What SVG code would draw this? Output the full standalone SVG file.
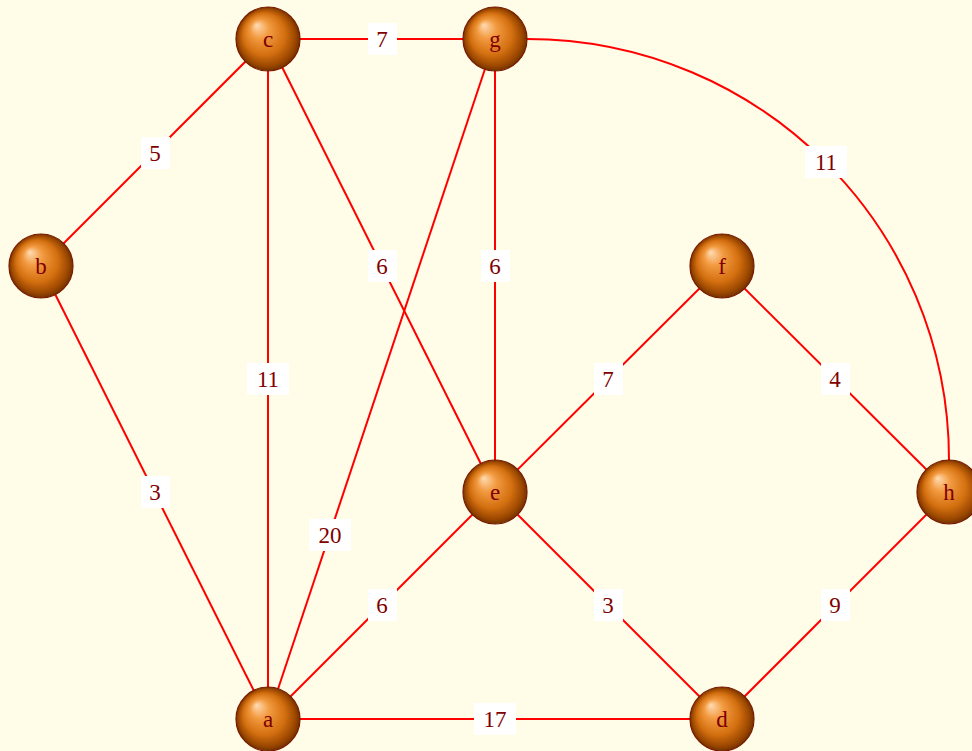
<svg xmlns="http://www.w3.org/2000/svg" width="972" height="751" viewBox="0 0 972 751">
<defs>
<radialGradient id="ball" cx="50%" cy="50%" r="50%" fx="32%" fy="28%">
<stop offset="0" stop-color="#ffdcb4"/>
<stop offset="0.3" stop-color="#f29a40"/>
<stop offset="0.65" stop-color="#d47010"/>
<stop offset="0.9" stop-color="#9a4600"/>
<stop offset="1" stop-color="#703200"/>
</radialGradient>
<style>
.edge{stroke:#ff0000;stroke-width:2;fill:none}
.ball{fill:url(#ball);stroke:#7a1a00;stroke-width:1.2}
.lbl{fill:#ffffff}
text{font-family:"Liberation Serif","DejaVu Serif",serif;font-size:23px;fill:#800000;text-anchor:middle;dominant-baseline:central}
</style>
</defs>
<rect width="972" height="751" fill="#fffce8"/>
<g id="connectors">
<line class="edge" x1="268" y1="39" x2="495" y2="39"/>
<line class="edge" x1="268" y1="39" x2="41" y2="266"/>
<line class="edge" x1="41" y1="266" x2="268" y2="719"/>
<line class="edge" x1="268" y1="39" x2="268" y2="719"/>
<line class="edge" x1="268" y1="39" x2="495" y2="492"/>
<line class="edge" x1="495" y1="39" x2="268" y2="719"/>
<line class="edge" x1="495" y1="39" x2="495" y2="492"/>
<path class="edge" d="M527,39 C760,39 949,227 949,460"/>
<line class="edge" x1="722" y1="266" x2="495" y2="492"/>
<line class="edge" x1="722" y1="266" x2="949" y2="492"/>
<line class="edge" x1="495" y1="492" x2="268" y2="719"/>
<line class="edge" x1="495" y1="492" x2="722" y2="719"/>
<line class="edge" x1="949" y1="492" x2="722" y2="719"/>
<line class="edge" x1="268" y1="719" x2="722" y2="719"/>
<g id="labels">
<rect class="lbl" x="368" y="23" width="29" height="32"/><text x="382" y="39">7</text>
<rect class="lbl" x="141" y="137" width="29" height="32"/><text x="155" y="153">5</text>
<rect class="lbl" x="141" y="476" width="29" height="32"/><text x="155" y="492">3</text>
<rect class="lbl" x="247" y="363" width="42" height="32"/><text x="268" y="379">11</text>
<rect class="lbl" x="368" y="250" width="29" height="32"/><text x="382" y="266">6</text>
<rect class="lbl" x="309" y="519" width="42" height="32"/><text x="330" y="535">20</text>
<rect class="lbl" x="481" y="250" width="29" height="32"/><text x="495" y="266">6</text>
<rect class="lbl" x="805" y="146" width="42" height="32"/><text x="826" y="162">11</text>
<rect class="lbl" x="594" y="363" width="29" height="32"/><text x="608" y="379">7</text>
<rect class="lbl" x="821" y="363" width="29" height="32"/><text x="835" y="379">4</text>
<rect class="lbl" x="368" y="589" width="29" height="32"/><text x="382" y="605">6</text>
<rect class="lbl" x="594" y="589" width="29" height="32"/><text x="608" y="605">3</text>
<rect class="lbl" x="821" y="589" width="29" height="32"/><text x="835" y="605">9</text>
<rect class="lbl" x="474" y="703" width="42" height="32"/><text x="495" y="719">17</text>
</g>
</g>
<g id="node-c"><circle class="ball" cx="268" cy="39" r="32"/><text x="268" y="39">c</text></g>
<g id="node-g"><circle class="ball" cx="495" cy="39" r="32"/><text x="495" y="39">g</text></g>
<g id="node-b"><circle class="ball" cx="41" cy="266" r="32"/><text x="41" y="266">b</text></g>
<g id="node-f"><circle class="ball" cx="722" cy="266" r="32"/><text x="722" y="266">f</text></g>
<g id="node-e"><circle class="ball" cx="495" cy="492" r="32"/><text x="495" y="492">e</text></g>
<g id="node-h"><circle class="ball" cx="949" cy="492" r="32"/><text x="949" y="492">h</text></g>
<g id="node-a"><circle class="ball" cx="268" cy="719" r="32"/><text x="268" y="719">a</text></g>
<g id="node-d"><circle class="ball" cx="722" cy="719" r="32"/><text x="722" y="719">d</text></g>
</svg>
